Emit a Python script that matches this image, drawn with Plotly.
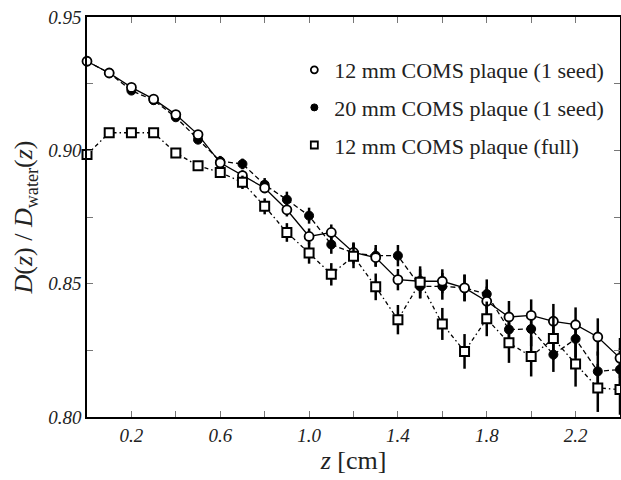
import plotly.graph_objects as go

z = [0.0, 0.1, 0.2, 0.3, 0.4, 0.5, 0.6, 0.7, 0.8, 0.9, 1.0, 1.1, 1.2,
     1.3, 1.4, 1.5, 1.6, 1.7, 1.8, 1.9, 2.0, 2.1, 2.2, 2.3, 2.4]

open12 = [0.9334, 0.9290, 0.9236, 0.9192, 0.9134, 0.9059, 0.8953, 0.8905,
          0.8859, 0.8777, 0.8677, 0.8692, 0.8617, 0.8598, 0.8515, 0.8509,
          0.8509, 0.8484, 0.8434, 0.8375, 0.8381, 0.8359, 0.8346, 0.8300, 0.8221]
err_open12 = [0.0008, 0.0008, 0.001, 0.001, 0.001, 0.0012, 0.0015, 0.002, 0.002,
              0.0025, 0.003, 0.003, 0.0035, 0.0035, 0.004, 0.0045, 0.0045, 0.005,
              0.0055, 0.006, 0.006, 0.0065, 0.0065, 0.007, 0.0075]

filled20 = [0.9334, 0.9290, 0.9224, 0.9188, 0.9124, 0.9040, 0.8959, 0.8949,
            0.8871, 0.8815, 0.8755, 0.8647, 0.8615, 0.8605, 0.8605, 0.8490,
            0.8490, 0.8484, 0.8461, 0.8328, 0.8330, 0.8234, 0.8293, 0.8171, 0.8178]
err_filled20 = [0.0008, 0.0008, 0.001, 0.001, 0.0012, 0.0015, 0.002, 0.002, 0.0025,
                0.003, 0.003, 0.0035, 0.004, 0.004, 0.004, 0.0045, 0.005, 0.005,
                0.0055, 0.006, 0.0065, 0.0065, 0.007, 0.0075, 0.008]

full12 = [0.8984, 0.9066, 0.9066, 0.9066, 0.8990, 0.8942, 0.8917, 0.8880,
          0.8790, 0.8692, 0.8615, 0.8535, 0.8603, 0.8488, 0.8365, 0.8505,
          0.8349, 0.8246, 0.8368, 0.8278, 0.8227, 0.8294, 0.8199, 0.8109, 0.8103]
err_full12 = [0.001, 0.001, 0.001, 0.0012, 0.0015, 0.0018, 0.002, 0.0025, 0.003,
              0.0035, 0.004, 0.0042, 0.0045, 0.005, 0.0055, 0.006, 0.006, 0.0065,
              0.0065, 0.0075, 0.0075, 0.008, 0.0085, 0.009, 0.0095]

names = ["12 mm COMS plaque (1 seed)", "20 mm COMS plaque (1 seed)",
         "12 mm COMS plaque (full)"]

x_tickvals = [0.0, 0.2, 0.4, 0.6, 0.8, 1.0, 1.2, 1.4, 1.6, 1.8, 2.0, 2.2, 2.4]
x_ticktext = ["", "0.2", "", "0.6", "", "1.0", "", "1.4", "", "1.8", "", "2.2", ""]
y_tickvals = [0.80, 0.825, 0.85, 0.875, 0.90, 0.925, 0.95]
y_ticktext = ["0.80", "", "0.85", "", "0.90", "", "0.95"]

SERIF = "Liberation Serif, Times New Roman, serif"

def eb(arr):
    return dict(type="data", array=arr, visible=True, color="black",
                thickness=2.5, width=0)

fig = go.Figure()

# 20 mm (filled, dashed)
fig.add_trace(go.Scatter(
    x=z, y=filled20, mode="lines+markers", showlegend=False, cliponaxis=False,
    line=dict(color="black", width=1.3, dash="5px,3px"),
    marker=dict(symbol="circle", size=9, color="black",
                line=dict(color="black", width=1)),
    error_y=eb(err_filled20)))

# 12 mm one seed (open, solid)
fig.add_trace(go.Scatter(
    x=z, y=open12, mode="lines+markers", showlegend=False, cliponaxis=False,
    line=dict(color="black", width=1.3),
    marker=dict(symbol="circle", size=9, color="white",
                line=dict(color="black", width=1.8)),
    error_y=eb(err_open12)))

# 12 mm full (squares, dash-dot)
fig.add_trace(go.Scatter(
    x=z, y=full12, mode="lines+markers", showlegend=False, cliponaxis=False,
    line=dict(color="black", width=1.3, dash="4px,3px,1.5px,3px"),
    marker=dict(symbol="square", size=9, color="white",
                line=dict(color="black", width=2)),
    error_y=eb(err_full12)))

# legend-only entries (markers only)
leg_styles = [
    dict(symbol="circle", size=7, color="white", line=dict(color="black", width=1.8)),
    dict(symbol="circle", size=7, color="black", line=dict(color="black", width=1)),
    dict(symbol="square", size=7, color="white", line=dict(color="black", width=1.8)),
]
for i, (nm, mk) in enumerate(zip(names, leg_styles)):
    fig.add_trace(go.Scatter(
        x=[None], y=[None], mode="markers", name=nm, marker=mk,
        legendgroup=f"g{i}", showlegend=True))

axis_common = dict(
    showgrid=False, zeroline=False, showline=True, linecolor="black",
    linewidth=1.5, mirror="ticks", ticks="inside", ticklen=6, tickwidth=1.2,
    tickcolor="#777777", automargin=False,
    tickfont=dict(family=SERIF, size=19, color="#222222", style="italic"),
)

fig.update_xaxes(range=[0, 2.4], tickmode="array", tickvals=x_tickvals,
                 ticktext=x_ticktext,
                 title=dict(text="<i>z</i> [cm]",
                            font=dict(family=SERIF, size=26, color="#222222"),
                            standoff=6),
                 **axis_common)
fig.update_yaxes(range=[0.80, 0.95], tickmode="array", tickvals=y_tickvals,
                 ticktext=y_ticktext,
                 title=dict(text="<i>D</i>(<i>z</i>) / <i>D</i><sub>water</sub>(<i>z</i>)",
                            font=dict(family=SERIF, size=26, color="#222222"),
                            standoff=8),
                 **axis_common)

fig.update_layout(
    width=621, height=480,
    margin=dict(l=87, r=1, t=17, b=63, autoexpand=False),
    paper_bgcolor="white", plot_bgcolor="white",
    font=dict(family=SERIF),
    legend=dict(x=0.389, y=0.92, xanchor="left", yanchor="top",
                bgcolor="rgba(0,0,0,0)", borderwidth=0,
                font=dict(family=SERIF, size=22, color="#222222"),
                traceorder="grouped", tracegroupgap=6, itemwidth=30),
)

fig.write_html("out.html",
               config={"displayModeBar": False},
               post_script="document.body.style.margin='0';"
                           "document.body.style.overflow='hidden';")
